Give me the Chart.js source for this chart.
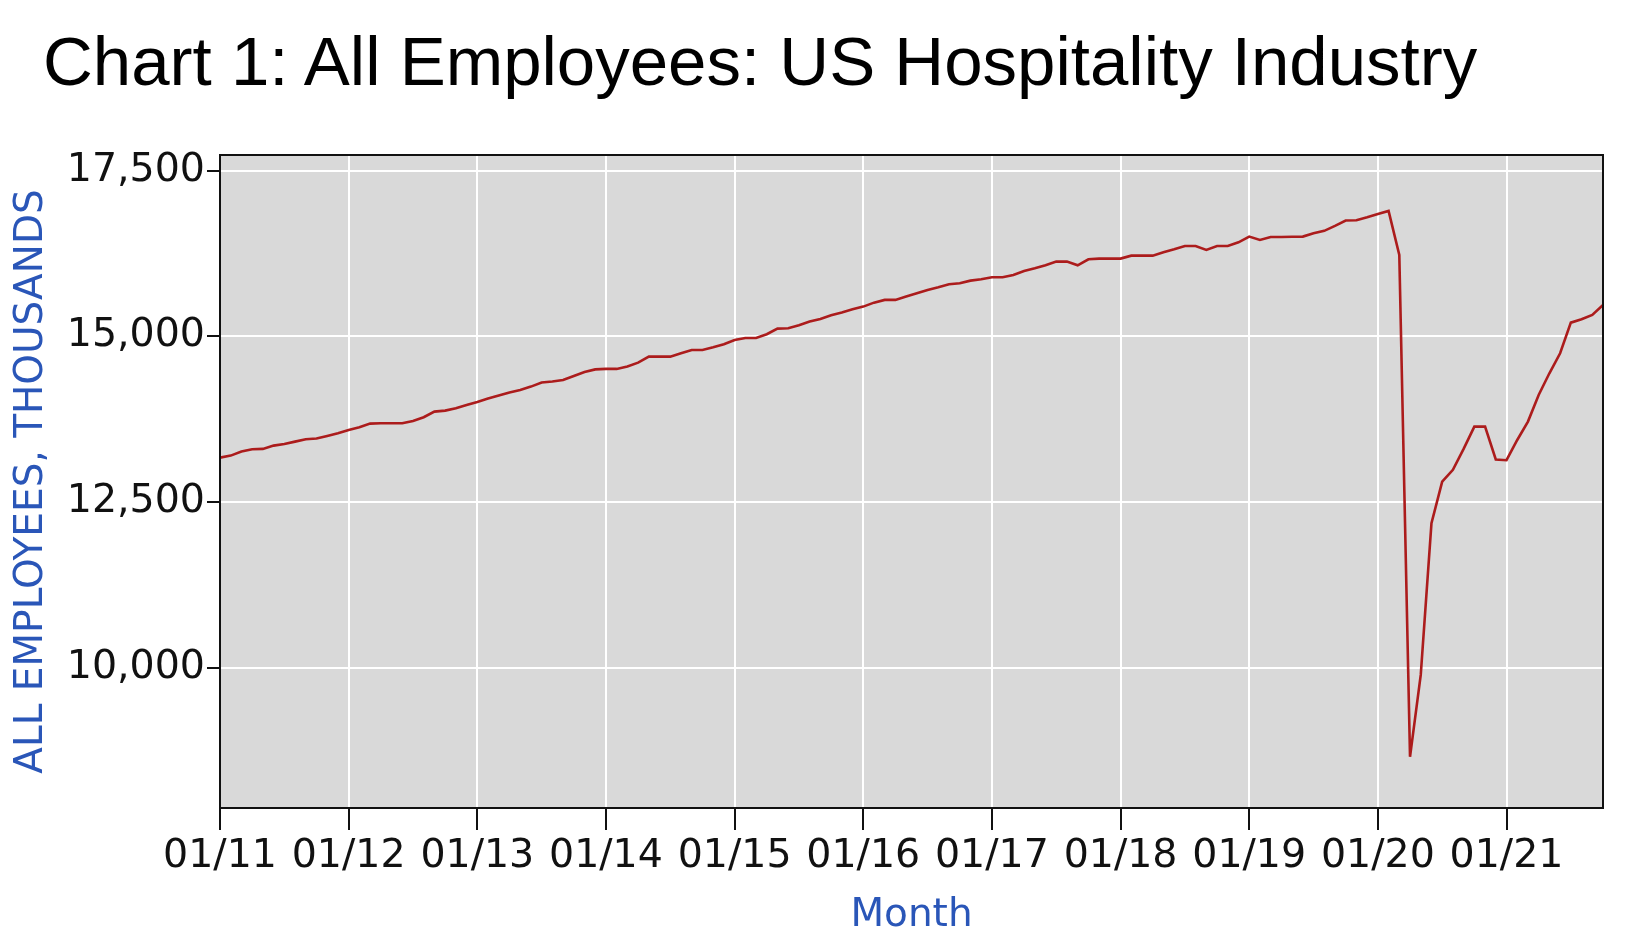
<!DOCTYPE html>
<html>
<head>
<meta charset="utf-8">
<script src="https://cdn.jsdelivr.net/npm/chart.js@4.4.1/dist/chart.umd.min.js"></script>
<style>
  html, body { margin: 0; padding: 0; background: #fff; }
  #lienzo { position: relative; width: 1640px; height: 939px; overflow: hidden; }
  #grafico { position: absolute; left: 0; top: 0; }
  #titulo {
    position: absolute; left: 43px; top: 27px;
    font-family: 'Liberation Sans', Arial, sans-serif;
    font-size: 69px; line-height: 70px; color: #000; white-space: nowrap;
  }
</style>
</head>
<body>
<div id="lienzo">
  <canvas id="grafico" width="1640" height="939"></canvas>
  <div id="titulo">Chart 1: All Employees: US Hospitality Industry</div>
</div>
<script>
// Datos mensuales, 01/2011 a 10/2021 (miles de empleados)
const empleados = [
  13169, 13199, 13260, 13295, 13300, 13350, 13375, 13410, 13446, 13456, 13496, 13536, // 2011
  13587, 13627, 13682, 13687, 13687, 13687, 13722, 13778, 13863, 13878, 13913, 13964, // 2012
  14009, 14059, 14105, 14150, 14190, 14240, 14301, 14316, 14340, 14400, 14460, 14500, // 2013
  14507, 14507, 14542, 14602, 14692, 14692, 14692, 14743, 14793, 14793, 14833, 14879, // 2014
  14944, 14974, 14974, 15030, 15115, 15120, 15165, 15221, 15261, 15316, 15357, 15407, // 2015
  15447, 15507, 15548, 15548, 15598, 15648, 15698, 15739, 15784, 15799, 15839, 15859, // 2016
  15889, 15889, 15925, 15985, 16025, 16070, 16126, 16126, 16070, 16161, 16171, 16171, // 2017
  16171, 16216, 16216, 16216, 16267, 16312, 16362, 16362, 16302, 16362, 16362, 16417, // 2018
  16503, 16453, 16498, 16498, 16500, 16503, 16553, 16590, 16664, 16745, 16750, 16795, // 2019
  16845, 16890, 16226, 8655, 9890, 12180, 12807, 12985, 13300, 13637, 13637, 13140,   // 2020
  13130, 13435, 13712, 14114, 14441, 14743, 15205, 15256, 15321, 15472                 // 2021
];

const etiquetasEjeX = ['01/11', '01/12', '01/13', '01/14', '01/15', '01/16', '01/17', '01/18', '01/19', '01/20', '01/21'];
const marcasEjeY = [10000, 12500, 15000, 17500];
const limitesEjeY = [7883, 17734];

const fuenteMarcas = { family: "'DejaVu Sans', Verdana, sans-serif", size: 39.5 };
const fuenteTitulos = { family: "'DejaVu Sans', Verdana, sans-serif", size: 39 };
const azulTitulo = '#2a56b8';

// 1. Fondo gris del área y marco negro
const fondoYMarco = {
  id: 'fondoYMarco',
  beforeDraw(chart) {
    const { ctx, chartArea: a } = chart;
    ctx.save();
    ctx.fillStyle = '#d9d9d9';
    ctx.fillRect(a.left, a.top, a.right - a.left, a.bottom - a.top);
    ctx.restore();
  },
  afterDraw(chart) {
    const { ctx, chartArea: a } = chart;
    ctx.save();
    ctx.strokeStyle = '#111';
    ctx.lineWidth = 2;
    ctx.strokeRect(a.left, a.top, a.right - a.left, a.bottom - a.top);
    ctx.restore();
  }
};

// 2. Gráfico de línea
new Chart(document.getElementById('grafico'), {
  type: 'line',
  data: {
    datasets: [{
      data: empleados.map((v, i) => ({ x: i, y: v })),
      borderColor: '#ac1c1c',
      borderWidth: 2.6,
      pointRadius: 0,
      tension: 0,
      fill: false
    }]
  },
  options: {
    responsive: false,
    animation: false,
    devicePixelRatio: 1,
    layout: { padding: { top: 155, right: 37, bottom: 0, left: 0 } },
    plugins: { legend: { display: false }, tooltip: { enabled: false } },
    scales: {
      x: {
        type: 'linear',
        min: 0,
        max: empleados.length - 1,
        afterBuildTicks: s => { s.ticks = etiquetasEjeX.map((_, i) => ({ value: i * 12 })); },
        afterFit: s => { s.height = 131; },
        ticks: {
          autoSkip: false, maxRotation: 0, padding: 3, color: '#111', font: fuenteMarcas,
          callback: (v, i) => etiquetasEjeX[i]
        },
        grid: { color: '#ffffff', lineWidth: 2, tickColor: '#111', tickLength: 22, tickWidth: 2 },
        border: { display: true, color: '#111', width: 2 },
        title: { display: true, text: 'Month', color: azulTitulo, font: fuenteTitulos, padding: { top: 0, bottom: 0 } }
      },
      y: {
        type: 'linear',
        min: limitesEjeY[0],
        max: limitesEjeY[1],
        afterBuildTicks: s => { s.ticks = marcasEjeY.map(v => ({ value: v })); },
        afterFit: s => { s.width = 220; },
        ticks: {
          padding: 2, color: '#111', font: fuenteMarcas,
          callback: v => Number(v).toLocaleString('en-US')
        },
        grid: { color: '#ffffff', lineWidth: 2, tickColor: '#111', tickLength: 13, tickWidth: 2 },
        border: { display: true, color: '#111', width: 2 },
        title: { display: true, text: 'ALL EMPLOYEES, THOUSANDS', color: azulTitulo, font: fuenteTitulos, padding: { top: 8, bottom: 0 } }
      }
    }
  },
  plugins: [fondoYMarco]
});
</script>
</body>
</html>
